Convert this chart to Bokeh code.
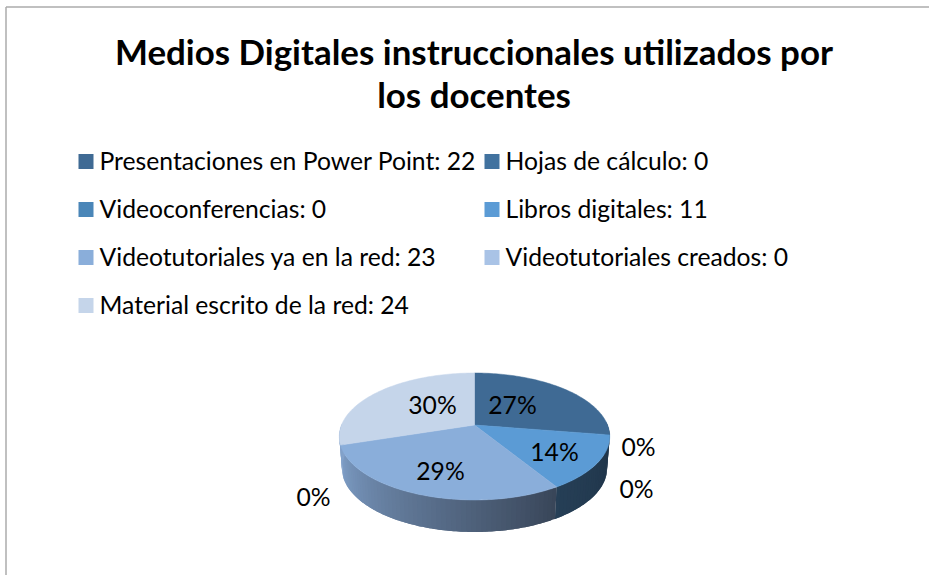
from bokeh.plotting import figure
from bokeh.models import Range1d
from bokeh.core.properties import value
from bokeh.embed import file_html
from bokeh.resources import INLINE
import math

title_lines = ["Medios Digitales instruccionales utilizados por", "los docentes"]
categories = ["Presentaciones en Power Point", "Hojas de cálculo", "Videoconferencias",
              "Libros digitales", "Videotutoriales ya en la red", "Videotutoriales creados",
              "Material escrito de la red"]
counts = [22, 0, 0, 11, 23, 0, 24]
pct_labels = ["27%", "0%", "0%", "14%", "29%", "0%", "30%"]
colors = ["#3F6A94", "#41729F", "#4A86B8", "#5B9BD5", "#8AAEDA", "#A9C3E6", "#C5D5EA"]

FONT = value("Lato")
p = figure(width=929, height=575, output_backend="svg", toolbar_location=None,
           x_range=Range1d(0, 929), y_range=Range1d(575, 0),
           min_border=0, outline_line_color=None, margin=(0, 0, 0, 0))
p.axis.visible = False
p.grid.visible = False

# frame
p.segment([5.5, 5.5], [6.5, 6.5], [5.5, 929], [575, 6.5], line_color="#ABABAB", line_width=1.5)

# title
for line, y in zip(title_lines, [51, 94]):
    p.text([473.5], [y], text=[line], text_font=FONT, text_font_style="bold", text_font_size="34.9px",
           text_color="#000000", text_align="center", text_baseline="middle")

# legend
col_x = [78, 484]
row_y = [161, 209, 257, 305]
for i, (c, n, col) in enumerate(zip(categories, counts, colors)):
    x = col_x[i % 2]
    y = row_y[i // 2]
    p.quad(left=[x], right=[x + 15], top=[y - 7.5], bottom=[y + 7.5], fill_color=col, line_color=None)
    p.text([x + 21], [y - 1], text=[f"{c}: {n}"], text_font=FONT, text_font_size="24.7px",
           text_color="#000000", text_align="left", text_baseline="middle")

# pie in perspective
CX, CY, W, H, K, DEPTH, SHRINK = 474, 424.5, 133, 61.4, 0.181, 32, 0.98

def proj(frac):
    a = 2 * math.pi * frac
    u, v = math.sin(a), math.cos(a)
    d = 1 + K * v
    return CX + W * u / d, CY - H * v / d

total = sum(counts)
bounds = [0]
for n in counts:
    bounds.append(bounds[-1] + n / total)

def lerp_hex(a, b, t):
    ca = [int(a[i:i + 2], 16) for i in (1, 3, 5)]
    cb = [int(b[i:i + 2], 16) for i in (1, 3, 5)]
    return "#%02X%02X%02X" % tuple(round(x + (y - x) * t) for x, y in zip(ca, cb))

wall_stops = {0: ("#2F4F6E", "#2F4F6E"), 3: ("#1F3449", "#263F56"),
              4: ("#394659", "#7F9FC8"), 6: ("#7F9FC8", "#9DB6D8")}
# walls, painted as overlapping strips
for i, n in enumerate(counts):
    if n == 0 or i not in wall_stops:
        continue
    a0, a1 = bounds[i], bounds[i + 1]
    steps = max(4, int((a1 - a0) * 200))
    c0, c1 = wall_stops[i]
    for s in range(steps):
        f0 = a0 + (a1 - a0) * s / steps
        f1 = min(a1, a0 + (a1 - a0) * (s + 2) / steps)
        if not (0.25 < f0 < 0.75 or 0.25 < f1 < 0.75):
            continue
        fs = [f0 + (f1 - f0) * k / 4 for k in range(5)]
        top = [proj(f) for f in fs]
        xs = [q[0] for q in top] + [CX + (q[0] - CX) * SHRINK for q in reversed(top)]
        ys = [q[1] for q in top] + [q[1] + DEPTH for q in reversed(top)]
        p.patch(xs, ys, fill_color=lerp_hex(c0, c1, s / steps), line_color=None)

# top faces
for i, n in enumerate(counts):
    if n == 0:
        continue
    a0, a1 = bounds[i], bounds[i + 1]
    steps = max(8, int((a1 - a0) * 300))
    pts = [proj(a0 + (a1 - a0) * s / steps) for s in range(steps + 1)]
    xs = [CX] + [q[0] for q in pts]
    ys = [CY] + [q[1] for q in pts]
    p.patch(xs, ys, fill_color=colors[i], line_color=colors[i], line_width=0.5)

# percentage labels
label_pos = [(512, 404), (638, 446), (636, 488), (554, 451), (440, 470), (313, 496), (432, 404)]
for t, (x, y) in zip(pct_labels, label_pos):
    p.text([x], [y], text=[t], text_font=FONT, text_font_size="24.7px", text_color="#000000",
           text_align="center", text_baseline="middle")

open("out.html", "w").write(file_html(p, INLINE))
